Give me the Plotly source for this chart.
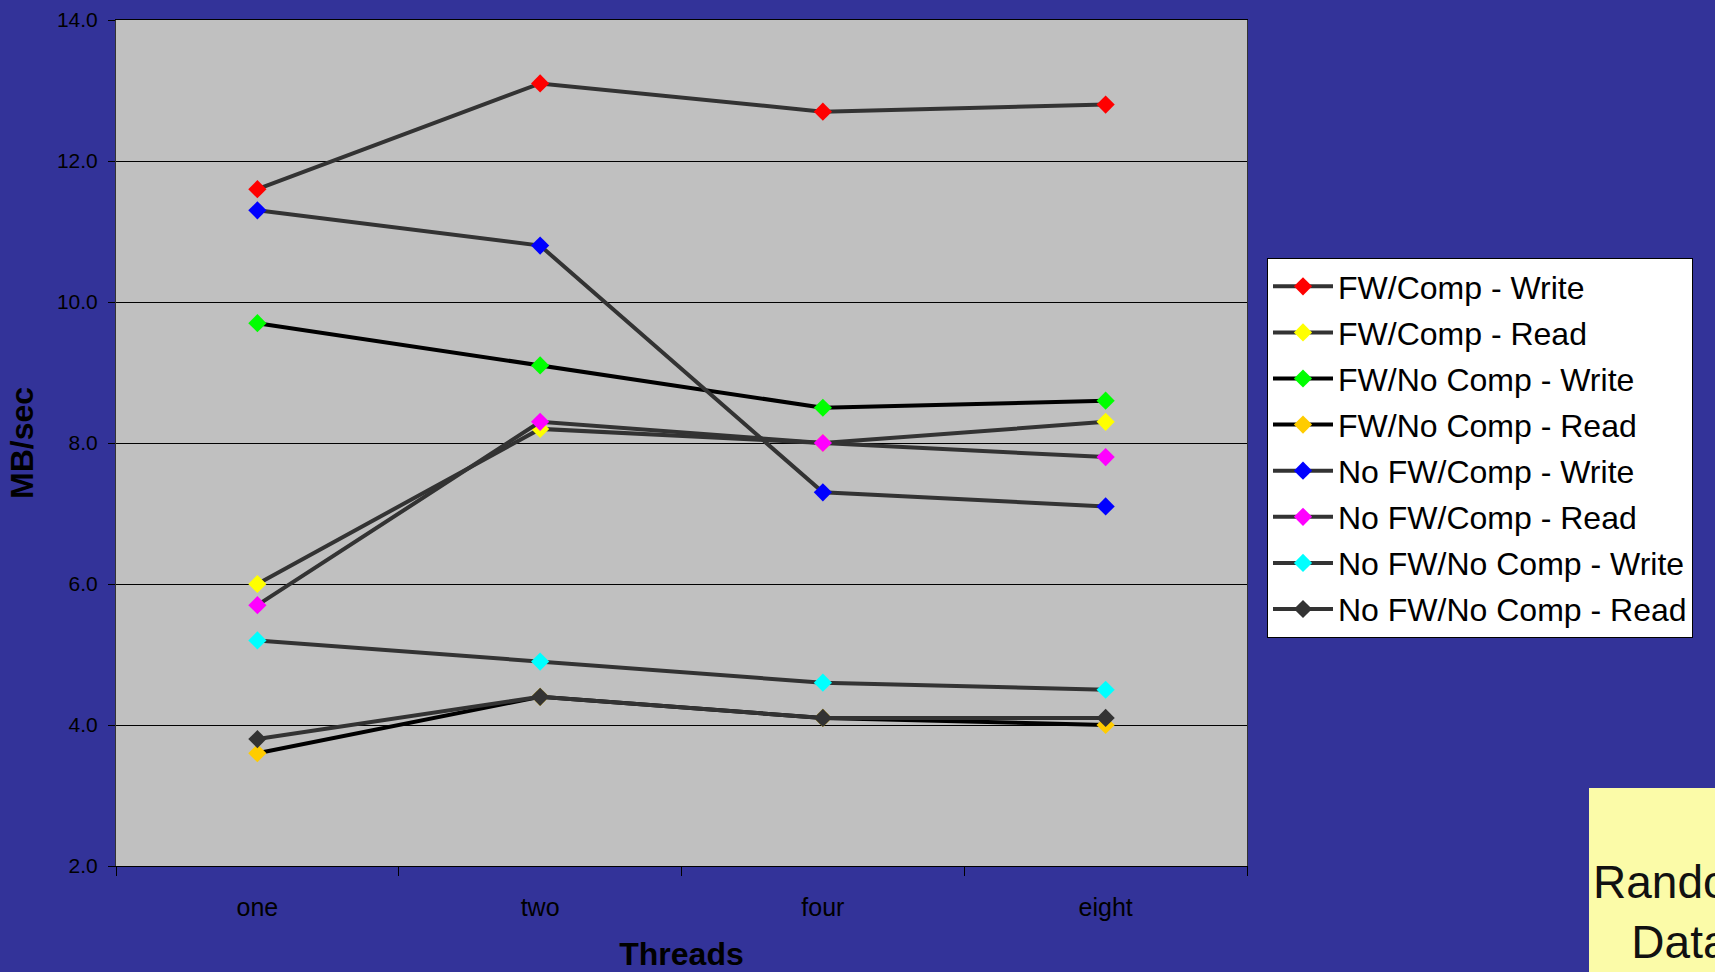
import plotly.graph_objects as go

threads = ["one", "two", "four", "eight"]

series_names = [
    "FW/Comp - Write",
    "FW/Comp - Read",
    "FW/No Comp - Write",
    "FW/No Comp - Read",
    "No FW/Comp - Write",
    "No FW/Comp - Read",
    "No FW/No Comp - Write",
    "No FW/No Comp - Read",
]

fw_comp_write = [11.6, 13.1, 12.7, 12.8]
fw_comp_read = [6.0, 8.2, 8.0, 8.3]
fw_nocomp_write = [9.7, 9.1, 8.5, 8.6]
fw_nocomp_read = [3.6, 4.4, 4.1, 4.0]
nofw_comp_write = [11.3, 10.8, 7.3, 7.1]
nofw_comp_read = [5.7, 8.3, 8.0, 7.8]
nofw_nocomp_write = [5.2, 4.9, 4.6, 4.5]
nofw_nocomp_read = [3.8, 4.4, 4.1, 4.1]

values = [fw_comp_write, fw_comp_read, fw_nocomp_write, fw_nocomp_read,
          nofw_comp_write, nofw_comp_read, nofw_nocomp_write, nofw_nocomp_read]

marker_colors = ["#FF0000", "#FFFF00", "#00FF00", "#FFCC00",
                 "#0000FF", "#FF00FF", "#00FFFF", "#333333"]
line_colors = ["#333333", "#333333", "#000000", "#000000",
               "#333333", "#333333", "#333333", "#333333"]

y_ticks = [2, 4, 6, 8, 10, 12, 14]

W, H = 1715, 972
L, R, T, B = 116, 1247, 20, 866
pw, ph = R - L, B - T

def px(x):
    return (x - L) / pw

def py(y):
    return (B - y) / ph

fig = go.Figure()
for i, (name, vals) in enumerate(zip(series_names, values)):
    fig.add_trace(go.Scatter(
        x=threads, y=vals, name=name, mode="lines+markers",
        legendgroup=f"g{i}",
        line=dict(color=line_colors[i], width=4),
        marker=dict(symbol="diamond", size=14, color=marker_colors[i],
                    line=dict(width=0)),
    ))

fig.update_layout(
    width=W, height=H,
    margin=dict(l=L, r=W - R, t=T, b=H - B, autoexpand=False),
    paper_bgcolor="#333399",
    plot_bgcolor="#C0C0C0",
    font=dict(family="Liberation Sans, Arial, sans-serif", color="#000000"),
    showlegend=True,
    legend=dict(
        x=px(1267), y=py(258), xanchor="left", yanchor="top",
        bgcolor="#FFFFFF", bordercolor="#000000", borderwidth=1,
        font=dict(size=32, color="#000000"),
        tracegroupgap=1.5, itemwidth=60,
    ),
    xaxis=dict(
        type="category", range=[-0.5, 3.5],
        tickson="boundaries", ticks="outside", ticklen=9, tickcolor="#000000",
        showline=True, linecolor="#000000", linewidth=1, mirror=True,
        showgrid=False, tickfont=dict(size=25),
        ticklabelstandoff=19,
        title=dict(text="<b>Threads</b>", font=dict(size=32), standoff=24),
    ),
    yaxis=dict(
        range=[2, 14], tickvals=y_ticks, tickformat=".1f",
        ticks="outside", ticklen=7, tickcolor="#000000",
        showline=True, linecolor="#333333", linewidth=1, mirror=True,
        showgrid=True, gridcolor="#000000", gridwidth=1,
        zeroline=False, tickfont=dict(size=21),
        ticklabelstandoff=6,
        title=dict(text="<b>MB/sec</b>", font=dict(size=32), standoff=13),
    ),
)

fig.add_shape(type="rect", xref="paper", yref="paper",
              x0=px(1589), x1=px(1800), y0=py(1000), y1=py(788),
              fillcolor="#FBFBA8", line=dict(width=0), layer="below")
fig.add_annotation(xref="paper", yref="paper", x=px(1680), y=py(912),
                   xanchor="center", yanchor="middle", showarrow=False,
                   text="Random<br>Data", align="center",
                   font=dict(size=46, color="#111111"))

fig.write_html("out.html",
               config={"displayModeBar": False},
               post_script="document.body.style.margin='0';document.body.style.overflow='hidden';")
